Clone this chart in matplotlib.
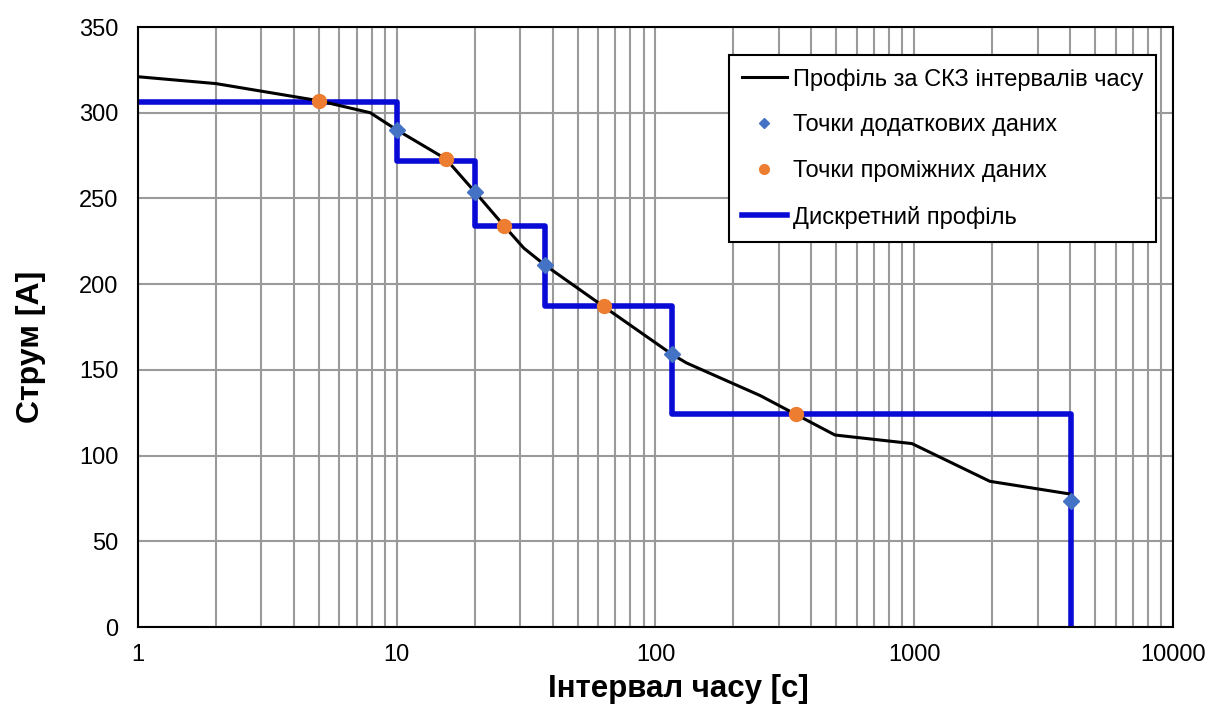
import matplotlib.pyplot as plt
import numpy as np
from matplotlib.ticker import FixedLocator, NullFormatter, LogLocator

plt.rcParams['font.family'] = ['Liberation Sans', 'DejaVu Sans']

# профіль за СКЗ
t_rms = [1, 2, 5, 7.9, 10, 15.5, 20, 26, 31, 37.5, 63, 116, 132, 254, 349, 494, 980, 1960, 4036]
i_rms = [321, 317, 307, 300, 290, 273, 254, 234, 221, 211, 187, 159, 154, 135, 124, 112, 107, 85, 77.5]

# точки додаткових даних
t_add = [10, 20, 37.5, 116, 4036]
i_add = [290, 254, 211, 159, 73.5]

# точки проміжних даних
t_mid = [5, 15.5, 26, 63, 349]
i_mid = [307, 273, 234, 187, 124]

# дискретний профіль
t_step = [1, 10, 20, 37.5, 116, 4036]
i_step = [306, 272, 234, 187, 124, 0]

fig = plt.figure(figsize=(12.18, 7.13), dpi=100)
ax = fig.add_axes([0.1133, 0.1206, 0.8497, 0.8415])

ax.plot(t_rms, i_rms, color='black', lw=2.2, label='Профіль за СКЗ інтервалів часу', zorder=3)
ax.step(t_step, i_step, where='post', color='#0a0ad6', lw=4, label='Дискретний профіль', zorder=2)
ax.plot(t_add, i_add, ls='none', marker='D', ms=8, color='#4472C4', label='Точки додаткових даних', zorder=4)
ax.plot(t_mid, i_mid, ls='none', marker='o', ms=10, color='#ED7D31', label='Точки проміжних даних', zorder=4)

ax.set_xscale('log')
ax.set_xlim(1, 10000)
ax.set_ylim(0, 350)
ax.xaxis.set_major_locator(FixedLocator([1, 10, 100, 1000, 10000]))
ax.set_xticklabels(['1', '10', '100', '1000', '10000'])
ax.xaxis.set_minor_locator(LogLocator(base=10, subs=np.arange(2, 10)))
ax.xaxis.set_minor_formatter(NullFormatter())
ax.set_yticks(np.arange(0, 351, 50))
ax.tick_params(axis='both', which='both', length=0, labelsize=17)
ax.tick_params(axis='x', pad=12)
ax.tick_params(axis='y', pad=14)

ax.grid(True, which='major', axis='both', color='#9a9a9a', lw=1.5)
ax.grid(True, which='minor', axis='x', color='#9a9a9a', lw=1.5)
ax.set_axisbelow(True)
for s in ax.spines.values():
    s.set_color('black')
    s.set_linewidth(1.5)

ax.set_xlabel('Інтервал часу [с]', fontsize=22.5, fontweight='bold')
ax.set_ylabel('Струм [А]', fontsize=23, fontweight='bold')
ax.xaxis.set_label_coords(0.522, -0.078)
ax.yaxis.set_label_coords(-0.089, 0.467)

h, l = ax.get_legend_handles_labels()
order = [0, 2, 3, 1]
leg = ax.legend([h[i] for i in order], [l[i] for i in order], loc='upper right',
                bbox_to_anchor=(0.9836, 0.953), borderaxespad=0, fontsize=17, frameon=True,
                fancybox=False, edgecolor='black', framealpha=1, labelspacing=1.0,
                handlelength=1.9, handletextpad=0.25, borderpad=0.55, markerscale=0.7)
leg.get_frame().set_linewidth(1.5)

fig.savefig('out.png', dpi=100)
